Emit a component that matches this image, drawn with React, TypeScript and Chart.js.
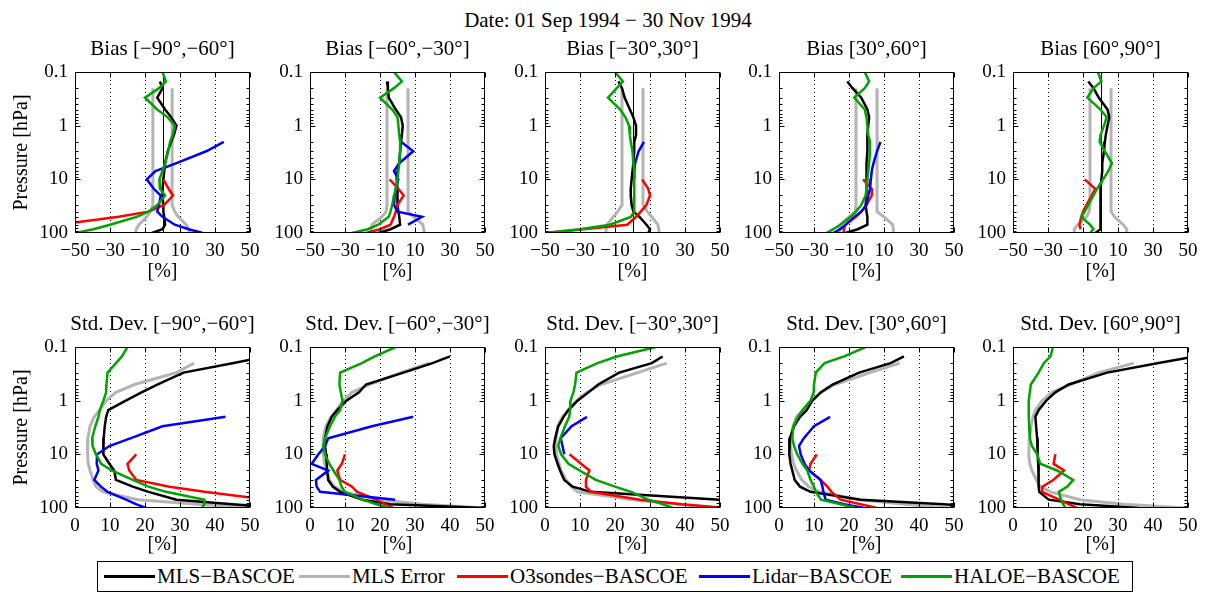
import React, { useEffect, useRef } from 'react';
import { Chart, registerables } from 'chart.js';

Chart.register(...registerables);

const SERIF = "'Liberation Serif', 'Times New Roman', serif";
const N = null;

// Pressure levels [hPa] shared by every profile below
const PRESSURE = [0.1, 0.15, 0.2, 0.3, 0.5, 0.7, 1, 1.5, 2, 3, 5, 7, 10, 15, 20, 30, 40, 50, 70, 85, 100];

const BIAS_TICKS = [-50, -30, -10, 10, 30, 50];
const BIAS_GRID = [-30, -10, 10, 30];
const STD_TICKS = [0, 10, 20, 30, 40, 50];
const STD_GRID = [10, 20, 30, 40];
const P_TICKS = [0.1, 1, 10, 100];

const BANDS = ['[\u221290\u00b0,\u221260\u00b0]', '[\u221260\u00b0,\u221230\u00b0]', '[\u221230\u00b0,30\u00b0]', '[30\u00b0,60\u00b0]', '[60\u00b0,90\u00b0]'];
const SERIES_NAMES = ['MLS\u2212BASCOE', 'MLS Error', 'O3sondes\u2212BASCOE', 'Lidar\u2212BASCOE', 'HALOE\u2212BASCOE'];
const SERIES_COLORS = ['#000000', '#b4b4b4', '#ff0000', '#0000ff', '#00a400'];

// ---- Bias [%] ----
const B1_MLS = [N, -1.5, 0, -3, 1.5, 5, 8, 6.5, 5, 3, 1.5, 1, 0.5, 0, 0, 0.5, 0.5, 1, 1.5, 0, -6];
const B1_ERR = [N, N, 5.5, 5.5, 5.5, 5.5, 5.5, 5.5, 5.5, 5.5, 5.5, 5.5, 5.5, 5.5, 5.5, 5.5, 7, 9, 13.5, 15, 15.5];
const B1_O3S = [N, N, N, N, N, N, N, N, N, N, N, N, 0.5, 3.5, 6, 1, -8, -25, -60, N, N];
const B1_LIDAR = [N, N, N, N, N, N, N, N, 35, 25, 8, -4, -9, -5, -1, -2, -3, 0, 7, 15, 23];
const B1_HALOE = [0, 2, -2, -10, -3, 3, 7, 5.8, 4.3, 3.3, 1.4, 0, -1.8, -1.5, 1.5, -3, -8, -14.8, -30, -39.5, -50];

const B2_MLS = [N, -6, -5.5, -5, -1, 2, 3, 2.5, 2, 1.5, 1, 0, -0.5, 0, 0, 0, 0.5, 1, 1.5, -4, -11];
const B2_ERR = [N, N, 6, 6, 6, 6, 6, 6, 6, 6, 6, 6, 6, 6, 6, 6, 6.5, 9, 14.5, 15, 15.5];
const B2_O3S = [N, N, N, N, N, N, N, N, N, N, N, N, -4.5, 0.5, 3.5, 0, -1, -2, -4, -10, -18];
const B2_LIDAR = [N, N, N, N, N, N, N, N, 2, 9, 1, -2, 0.5, -1, -1.5, -2, 0, 14, 6, N, N];
const B2_HALOE = [-2, 2.5, -2, -10, -3, 0, 0.5, 1, 1.5, 1.5, 1, 0.5, 0, -1, -2, -3, -4, -5, -11, -17, -26];

const B3_MLS = [N, -8, -6, -4.5, -1.5, 0.5, 2, 2, 1, 1, 0.5, 0, -0.5, -1, -1, -0.5, 0.5, 4, 8, 10, 9];
const B3_ERR = [N, N, 6, 6, 6, 6, 6, 6, 6, 6, 6, 6, 6, 6, 6, 6, 8.5, 11, 14.5, 15, 15.3];
const B3_O3S = [N, N, N, N, N, N, N, N, N, N, N, N, 5.5, 9, 10, 8, 4.7, 2, -3, -28, -50];
const B3_LIDAR = [N, N, N, N, N, N, N, N, 6.5, 3.5, 1.5, 1, 1, N, N, N, N, N, N, N, N];
const B3_HALOE = [-10, -5.5, -9, -14, -7, -4, -2, -1.5, -1, 0, 0.5, 1, 1, 1, 1, 1, 1, -1, -13, -30, -50];

const B4_MLS = [N, -11, -8, -3, 0.5, 1.5, 1, 0.5, 0.5, 0.5, 0, 0, 0, 0, 0, -0.5, 0, 0.5, 0.5, -5, -12];
const B4_ERR = [N, N, 6, 6, 6, 6, 6, 6, 6, 6, 6, 6, 6, 6, 6, 6, 6.5, 10, 15, 15.3, 15.3];
const B4_O3S = [N, N, N, N, N, N, N, N, N, N, N, N, -2, 3, 3, 0, -3, -6, -12, -13, -13];
const B4_LIDAR = [N, N, N, N, N, N, N, N, 8, 6, 4, 3, 2.5, 2, 1, 0, -3, -7, -12, -15, -19];
const B4_HALOE = [-1, 1.5, -1, -7, -1, 0, 0.5, 1, 2, 2, 1.5, 1, 0.5, 0, -0.5, -3, -6, -9, -15, -19, -23];

const B5_MLS = [N, -7, -4, -1, 4, 5, 4, 3, 2.5, 2, 1, 1, 0.5, 0, 0, 0, 0, 0, 0, 0, -3];
const B5_ERR = [N, N, 6, 6, 6, 6, 6, 6, 6, 6, 6, 6, 6, 6, 6, 6, 6.5, 8, 13, 15, 15];
const B5_O3S = [N, N, N, N, N, N, N, N, N, N, N, N, -9, -3, -5, -8, -10, -11, -12, -11.5, N];
const B5_HALOE = [-1.5, 0.5, -4, -7.5, 0, 3.5, 2, 0, -0.5, 2.5, 6.5, 4.5, 1.5, -2, -4, -7, -9, -11, -6, -4, -6];

// ---- Std. Dev. [%] ----
const S1_MLS = [N, 55, 45, 31, 23.5, 19, 14.5, 9.5, 8.9, 8.5, 8.2, 8, 8.2, 9.8, 11.2, 11.7, 16.5, 21, 29, 45, 60];
const S1_ERR = [N, N, 34, 29, 17, 11.7, 8.9, 7, 5.5, 4.3, 3.7, 3.6, 3.6, 3.8, 4.3, 5.2, 6, 8, 18, 35, 52];
const S1_O3S = [N, N, N, N, N, N, N, N, N, N, N, N, 17.5, 15, 15.5, 17.5, 27, 37, 55, N, N];
const S1_LIDAR = [N, N, N, N, N, N, N, N, 43, 25, 16, 9.8, 6.3, 6.2, 6.7, 5.5, 7.4, 9.3, 14.6, 17.4, 20.3];
const S1_HALOE = [15, 13.4, 11.7, 9.3, 9, 8.9, 8.1, 7.1, 6.7, 5.8, 4.9, 5, 6, 7.5, 10.5, 16.5, 21, 26, 37, 37, 36.3];

const S2_MLS = [N, 40, 35, 26.7, 16, 14, 10.4, 7.8, 6.2, 5, 4.3, 4.3, 4.6, 4.8, 4.9, 5.2, 6.5, 8.6, 15, 23, 50];
const S2_ERR = [N, N, 34, 26, 17, 12, 9.5, 7.5, 6, 4.5, 3.8, 3.7, 3.8, 4.2, 4.8, 5.5, 7, 9.5, 20, 32, 50];
const S2_O3S = [N, N, N, N, N, N, N, N, N, N, N, N, 10, 9.1, 7.8, 8.6, 12, 13.5, 19, 21.4, 23.8];
const S2_LIDAR = [N, N, N, N, N, N, N, N, 29.5, 17.7, 5.2, 4.3, 2.4, 0.5, 5.2, 1.7, 1.9, 2.9, 24.3, N, N];
const S2_HALOE = [24.5, 18.5, 14.8, 8.6, 8.4, 8.8, 9.3, 8.6, 7.1, 5.7, 4.3, 3.8, 4.3, 5.5, 6.7, 8.4, 9, 10, 15, 19, 22.9];

const S3_MLS = [N, 33.6, 30.5, 21.2, 15.2, 12.4, 9.3, 6.7, 5.3, 3.8, 2.9, 2.5, 2.7, 3.6, 4.3, 5.5, 7.9, 13.1, 50, 60, N];
const S3_ERR = [N, N, 34.8, 26.5, 16, 12, 9, 6.5, 5, 3.6, 3.2, 3.1, 3.3, 4, 4.6, 6, 7.5, 9.3, 25, 38, 50];
const S3_O3S = [N, N, N, N, N, N, N, N, N, N, N, N, 7, 10.3, 12.7, 11.7, 11.7, 13.1, 27.2, 39, 52];
const S3_LIDAR = [N, N, N, N, N, N, N, N, 12, 7.6, 4.5, 5, 5.5, N, N, N, N, N, N, N, N];
const S3_HALOE = [31.7, 20.5, 15, 9, 8.6, 8.1, 7.3, 7.2, 6.9, 5.7, 4.4, 3.8, 4.6, 6.7, 9.9, 14.5, 20, 24.6, 29.5, 33.7, 36.5];

const S4_MLS = [N, 35.7, 31.9, 22.9, 15.3, 11.9, 9.5, 7.9, 6, 4.3, 3.1, 2.9, 3, 3.3, 3.8, 4.5, 6, 9, 23.3, 47, 60];
const S4_ERR = [N, N, 34.5, 26, 16, 12, 9.5, 7, 5, 4, 3.4, 3.3, 3.6, 4.2, 5, 6.5, 8.5, 11.5, 23, 36, 49];
const S4_O3S = [N, N, N, N, N, N, N, N, N, N, N, N, 10.8, 9, 8.6, 11.9, 13.8, 15, 17.6, 23.3, 28];
const S4_LIDAR = [N, N, N, N, N, N, N, N, 14.6, 10, 7.1, 5.7, 6.2, 7.3, 8.6, 11.9, 12.4, 12.7, 13.3, 18.6, 24.3];
const S4_HALOE = [24.8, 18.6, 13, 10.5, 10, 9.9, 9, 6.7, 5.4, 4.1, 3.8, 4.3, 5.2, 6.7, 8.1, 9, 10, 10.5, 12, 17.6, 21.9];

const S5_MLS = [N, 52, 41.2, 26.9, 15.9, 12.1, 9.5, 7.3, 6.4, 6.6, 6.9, 7, 7.1, 7.2, 7.3, 7.3, 7.4, 7.5, 10.2, 19.2, 36];
const S5_ERR = [N, N, 34.5, 24.5, 16.4, 11.1, 8.3, 6.4, 5.7, 5.1, 4.8, 4.6, 4.5, 4.8, 5.4, 6.7, 7.8, 10.7, 19.2, 31.6, 49.7];
const S5_O3S = [N, N, N, N, N, N, N, N, N, N, N, N, 12.1, 11.6, 14.6, 11.5, 8.4, 8.3, 13.2, 15.9, 18.3];
const S5_HALOE = [11.4, 10.7, 8.8, 7.3, 5.1, 4.8, 4.5, 4.5, 4.5, 4.6, 4.8, 5.4, 6.9, 7.8, 12.6, 17.2, 15.5, 13.1, 13.7, 14.3, 15];

type Vals = (number | null)[];
type PanelData = { mls: Vals; err: Vals; o3s: Vals | null; lidar: Vals | null; haloe: Vals; zero?: boolean };

const BIAS_PANELS: PanelData[] = [
  { mls: B1_MLS, err: B1_ERR, o3s: B1_O3S, lidar: B1_LIDAR, haloe: B1_HALOE, zero: true },
  { mls: B2_MLS, err: B2_ERR, o3s: B2_O3S, lidar: B2_LIDAR, haloe: B2_HALOE },
  { mls: B3_MLS, err: B3_ERR, o3s: B3_O3S, lidar: B3_LIDAR, haloe: B3_HALOE, zero: true },
  { mls: B4_MLS, err: B4_ERR, o3s: B4_O3S, lidar: B4_LIDAR, haloe: B4_HALOE },
  { mls: B5_MLS, err: B5_ERR, o3s: B5_O3S, lidar: null, haloe: B5_HALOE, zero: true },
];
const STD_PANELS: PanelData[] = [
  { mls: S1_MLS, err: S1_ERR, o3s: S1_O3S, lidar: S1_LIDAR, haloe: S1_HALOE },
  { mls: S2_MLS, err: S2_ERR, o3s: S2_O3S, lidar: S2_LIDAR, haloe: S2_HALOE },
  { mls: S3_MLS, err: S3_ERR, o3s: S3_O3S, lidar: S3_LIDAR, haloe: S3_HALOE },
  { mls: S4_MLS, err: S4_ERR, o3s: S4_O3S, lidar: S4_LIDAR, haloe: S4_HALOE },
  { mls: S5_MLS, err: S5_ERR, o3s: S5_O3S, lidar: null, haloe: S5_HALOE },
];

// ---- layout ----
const PLOT_LEFTS = [75, 310, 545, 779, 1013];
const PLOT_TOPS = [72, 347];
const PLOT_W = 175;
const PLOT_H = 161;
const Y_AXIS_W = 72;
const TITLE_H = 44;
const X_AXIS_H = 50;
const CANVAS_W = Y_AXIS_W + PLOT_W + Y_AXIS_W;
const CANVAS_H = TITLE_H + PLOT_H + X_AXIS_H;
const LEGEND_ITEM_X = [104, 299, 457, 699, 901];

function toPoints(vals: Vals, sign = 1) {
  const out: { x: number; y: number }[] = [];
  vals.forEach((v, i) => {
    if (v !== null && v !== undefined) out.push({ x: sign * v, y: PRESSURE[i] });
  });
  return out;
}

const fmtTick = (v: number) => (v < 0 ? '\u2212' + Math.abs(v) : String(v));

const framePlugin = {
  id: 'frame',
  beforeDatasetsDraw(chart: any, _a: any, opts: any) {
    const { ctx, chartArea: ca, scales } = chart;
    const x = scales.x;
    ctx.save();
    ctx.strokeStyle = '#000';
    ctx.lineWidth = 1;
    ctx.setLineDash([1, 3]);
    for (const v of opts.grid) {
      const px = Math.round(x.getPixelForValue(v)) + 0.5;
      ctx.beginPath();
      ctx.moveTo(px, ca.top);
      ctx.lineTo(px, ca.bottom);
      ctx.stroke();
    }
    ctx.setLineDash([]);
    if (opts.zero) {
      const px = Math.round(x.getPixelForValue(0)) + 0.5;
      ctx.beginPath();
      ctx.moveTo(px, ca.top);
      ctx.lineTo(px, ca.bottom);
      ctx.stroke();
    }
    ctx.restore();
  },
  afterDatasetsDraw(chart: any, _a: any, opts: any) {
    const { ctx, chartArea: ca, scales } = chart;
    const x = scales.x;
    const y = scales.y;
    const L = ca.left + 0.5;
    const R = ca.right - 0.5;
    const T = ca.top + 0.5;
    const B = ca.bottom - 0.5;
    ctx.save();
    ctx.strokeStyle = '#000';
    ctx.lineWidth = 1;
    ctx.beginPath();
    for (const d of [0.1, 1, 10]) {
      for (let m = 1; m <= 9; m++) {
        const py = Math.round(y.getPixelForValue(m * d)) + 0.5;
        const len = m === 1 ? 5 : 3;
        ctx.moveTo(L, py);
        ctx.lineTo(L + len, py);
        ctx.moveTo(R, py);
        ctx.lineTo(R - len, py);
      }
    }
    for (const v of opts.ticks) {
      const px = Math.round(x.getPixelForValue(v)) + 0.5;
      ctx.moveTo(px, B);
      ctx.lineTo(px, B - 5);
      ctx.moveTo(px, T);
      ctx.lineTo(px, T + 5);
    }
    ctx.stroke();
    ctx.strokeRect(L, T, R - L, B - T);
    // panel title, centred over the plot area
    ctx.fillStyle = '#000';
    ctx.font = `normal 21px ${SERIF}`;
    ctx.textAlign = 'center';
    ctx.textBaseline = 'middle';
    ctx.fillText(opts.title, (ca.left + ca.right) / 2, ca.top - 23);
    ctx.restore();
  },
};

function buildDatasets(p: PanelData, bias: boolean) {
  const ds: any[] = [];
  const line = (data: any[], color: string, width: number, order: number) => ({
    data,
    borderColor: color,
    backgroundColor: color,
    borderWidth: width,
    pointRadius: 0,
    pointHoverRadius: 0,
    showLine: true,
    fill: false,
    tension: 0,
    order,
  });
  ds.push(line(toPoints(p.mls), SERIES_COLORS[0], 2.5, 5));
  if (bias) {
    ds.push(line(toPoints(p.err, 1), SERIES_COLORS[1], 3, 6));
    ds.push(line(toPoints(p.err, -1), SERIES_COLORS[1], 3, 6));
  } else {
    ds.push(line(toPoints(p.err), SERIES_COLORS[1], 3, 6));
  }
  if (p.o3s) ds.push(line(toPoints(p.o3s), SERIES_COLORS[2], 2.5, 3));
  if (p.lidar) ds.push(line(toPoints(p.lidar), SERIES_COLORS[3], 2.5, 2));
  ds.push(line(toPoints(p.haloe), SERIES_COLORS[4], 2.5, 1));
  return ds;
}

function Panel({ row, col }: { row: number; col: number }) {
  const ref = useRef<HTMLCanvasElement>(null);
  const bias = row === 0;
  useEffect(() => {
    const p = bias ? BIAS_PANELS[col] : STD_PANELS[col];
    const xTicks = bias ? BIAS_TICKS : STD_TICKS;
    const chart = new Chart(ref.current as HTMLCanvasElement, {
      type: 'scatter',
      data: { datasets: buildDatasets(p, bias) },
      options: {
        responsive: false,
        animation: false,
        devicePixelRatio: 1,
        events: [],
        layout: { padding: { left: 0, right: Y_AXIS_W, top: TITLE_H, bottom: 0 } },
        plugins: {
          legend: { display: false },
          tooltip: { enabled: false },
          title: { display: false },
          frame: {
            grid: bias ? BIAS_GRID : STD_GRID,
            ticks: xTicks,
            zero: !!p.zero,
            title: (bias ? 'Bias ' : 'Std. Dev. ') + BANDS[col],
          },
        } as any,
        scales: {
          x: {
            type: 'linear',
            position: 'bottom',
            min: xTicks[0],
            max: xTicks[xTicks.length - 1],
            grid: { display: false, drawTicks: false },
            border: { display: false },
            afterBuildTicks: (s: any) => {
              s.ticks = xTicks.map((v) => ({ value: v }));
            },
            afterFit: (s: any) => {
              s.height = X_AXIS_H;
            },
            ticks: {
              autoSkip: false,
              maxRotation: 0,
              minRotation: 0,
              color: '#000',
              font: { family: SERIF, size: 19 },
              padding: 7,
              callback: (v: any) => fmtTick(Number(v)),
            },
            title: {
              display: true,
              text: '[%]',
              color: '#000',
              font: { family: SERIF, size: 20 },
              padding: { top: 0, bottom: bias ? -1 : 1 },
            },
          },
          y: {
            type: 'logarithmic',
            position: 'left',
            min: 0.1,
            max: 100,
            reverse: true,
            grid: { display: false, drawTicks: false },
            border: { display: false },
            afterBuildTicks: (s: any) => {
              s.ticks = P_TICKS.map((v) => ({ value: v }));
            },
            afterFit: (s: any) => {
              s.width = Y_AXIS_W;
            },
            ticks: {
              autoSkip: false,
              color: '#000',
              font: { family: SERIF, size: 19 },
              padding: 7,
              callback: (v: any) => String(v),
            },
            title: {
              display: col === 0,
              text: 'Pressure [hPa]',
              color: '#000',
              font: { family: SERIF, size: 20 },
              padding: { top: 7, bottom: 0 },
            },
          },
        },
      } as any,
      plugins: [framePlugin as any],
    });
    return () => chart.destroy();
  }, [row, col, bias]);
  return (
    <canvas
      ref={ref}
      width={CANVAS_W}
      height={CANVAS_H}
      style={{
        position: 'absolute',
        left: PLOT_LEFTS[col] - Y_AXIS_W,
        top: PLOT_TOPS[row] - TITLE_H,
        width: CANVAS_W,
        height: CANVAS_H,
      }}
    />
  );
}

function Legend() {
  const boxLeft = 97;
  return (
    <div
      style={{
        position: 'absolute',
        left: boxLeft,
        top: 561,
        width: 1036,
        height: 31,
        border: '1px solid #000',
        boxSizing: 'border-box',
        background: '#fff',
      }}
    >
      {SERIES_NAMES.map((name, i) => (
        <div
          key={name}
          style={{
            position: 'absolute',
            left: LEGEND_ITEM_X[i] - boxLeft - 1,
            top: 0,
            height: 29,
            display: 'flex',
            alignItems: 'center',
            whiteSpace: 'nowrap',
          }}
        >
          <span style={{ display: 'inline-block', width: 51, height: 3, background: SERIES_COLORS[i], marginRight: 2 }} />
          <span style={{ fontFamily: SERIF, fontSize: 21, lineHeight: '29px', color: '#000' }}>{name}</span>
        </div>
      ))}
    </div>
  );
}

export default function App() {
  const panels: React.ReactNode[] = [];
  for (let row = 0; row < 2; row++) {
    for (let col = 0; col < 5; col++) {
      panels.push(<Panel key={row + '-' + col} row={row} col={col} />);
    }
  }
  return (
    <div
      style={{
        position: 'absolute',
        left: 0,
        top: 0,
        width: 1206,
        height: 594,
        overflow: 'hidden',
        background: '#fff',
      }}
    >
      <div
        style={{
          position: 'absolute',
          left: 308,
          top: 8,
          width: 600,
          textAlign: 'center',
          fontFamily: SERIF,
          fontSize: 21,
          lineHeight: '24px',
          color: '#000',
        }}
      >
        Date: 01 Sep 1994 {'\u2212'} 30 Nov 1994
      </div>
      {panels}
      <Legend />
    </div>
  );
}
